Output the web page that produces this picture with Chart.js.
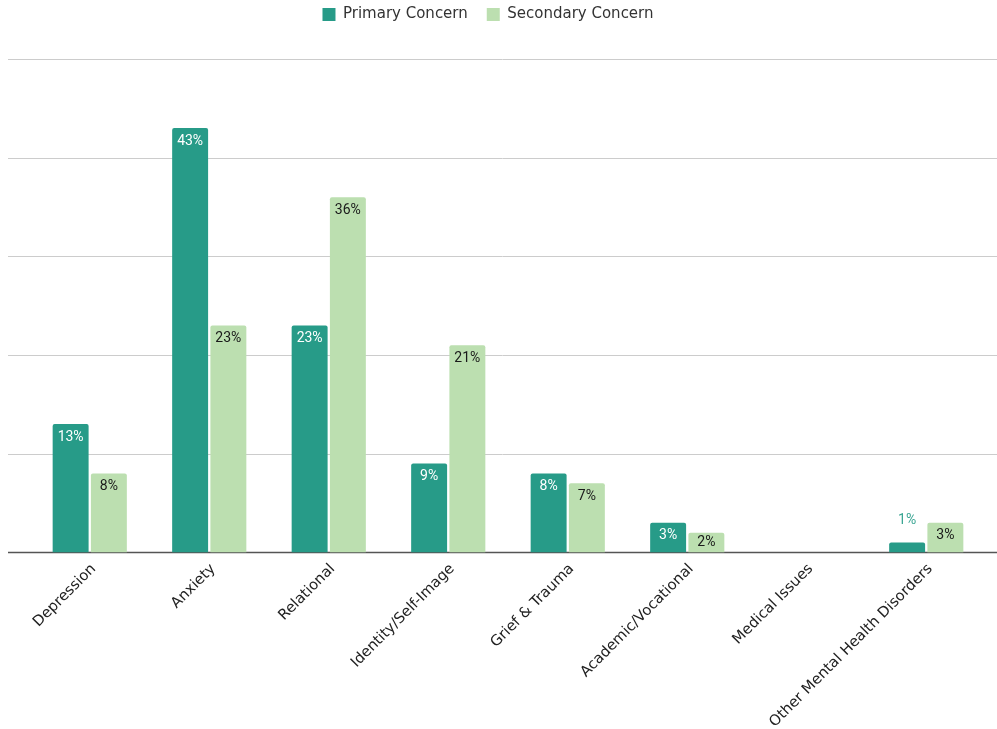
<!DOCTYPE html>
<html>
<head>
<meta charset="utf-8">
<script src="https://cdn.jsdelivr.net/npm/chart.js@4/dist/chart.umd.min.js"></script>
<style>
  html, body { margin: 0; padding: 0; background: #fff; }
  #wrap { width: 997px; height: 729px; }
</style>
</head>
<body>
<div id="wrap"><canvas id="barChart" width="997" height="729"></canvas></div>
<script>
var categories = [
  "Depression",
  "Anxiety",
  "Relational",
  "Identity/Self-Image",
  "Grief & Trauma",
  "Academic/Vocational",
  "Medical Issues",
  "Other Mental Health Disorders",
];
var primaryConcern = [13, 43, 23, 9, 8, 3, 0, 1];
var secondaryConcern = [8, 23, 36, 21, 7, 2, 0, 3];
var gridValues = [0, 10, 20, 30, 40, 50];

var teal = "#279b88";
var lightGreen = "#bcdfb0";

// gridlines across the full width, like the original
var fullGrid = {
  id: "fullGrid",
  beforeDatasetsDraw: function (chart) {
    var c = chart.ctx;
    var y = chart.scales.y;
    c.save();
    gridValues.forEach(function (v) {
      var py = Math.round(y.getPixelForValue(v)) + 0.5;
      c.beginPath();
      c.strokeStyle = v === 0 ? "#555" : "#cccccc";
      c.lineWidth = v === 0 ? 1.5 : 1;
      c.moveTo(8, py);
      c.lineTo(chart.width, py);
      c.stroke();
    });
    c.restore();
  },
};

// percent labels inside the top of each bar
var barLabels = {
  id: "barLabels",
  afterDatasetsDraw: function (chart) {
    var c = chart.ctx;
    c.save();
    c.font = "14px Roboto";
    c.textAlign = "center";
    c.textBaseline = "middle";
    chart.data.datasets.forEach(function (ds, i) {
      chart.getDatasetMeta(i).data.forEach(function (bar, j) {
        var v = ds.data[j];
        if (!v) return;
        var h = bar.base - bar.y;
        if (h >= 15) {
          c.fillStyle = i === 0 ? "#ffffff" : "#1a1a1a";
          c.fillText(v + "%", bar.x, bar.y + Math.min(13, h / 2));
        } else {
          c.fillStyle = i === 0 ? "#3aa593" : "#9ccf8c";
          c.fillText(v + "%", bar.x, bar.y - 22);
        }
      });
    });
    c.restore();
  },
};

// extra room under the legend, and nudge it a bit left
var legendGap = {
  id: "legendGap",
  beforeInit: function (chart) {
    var fit = chart.legend.fit;
    chart.legend.fit = function () {
      fit.bind(chart.legend)();
      this.height += 27;
    };
  },
  afterLayout: function (chart) {
    chart.legend.left -= 20;
    chart.legend.right -= 20;
  },
};

var ctx = document.getElementById("barChart").getContext("2d");
var myChart = new Chart(ctx, {
  type: "bar",
  data: {
    labels: categories,
    datasets: [
      {
        label: "Primary Concern",
        data: primaryConcern,
        backgroundColor: teal,
        borderRadius: { topLeft: 2, topRight: 2 },
        borderSkipped: "start",
        categoryPercentage: 0.64,
        barPercentage: 0.94,
      },
      {
        label: "Secondary Concern",
        data: secondaryConcern,
        backgroundColor: lightGreen,
        borderRadius: { topLeft: 2, topRight: 2 },
        borderSkipped: "start",
        categoryPercentage: 0.64,
        barPercentage: 0.94,
      },
    ],
  },
  options: {
    responsive: false,
    animation: false,
    layout: {
      padding: { left: 30, right: 11, top: -12, bottom: -2 },
    },
    plugins: {
      legend: {
        position: "top",
        labels: {
          boxWidth: 13,
          boxHeight: 13,
          padding: 19,
          color: "#333",
          font: { family: "'DejaVu Sans'", size: 15 },
        },
      },
      tooltip: { enabled: false },
    },
    scales: {
      y: {
        display: false,
        min: 0,
        max: 50,
      },
      x: {
        grid: { display: false },
        border: { display: false },
        ticks: {
          minRotation: 45,
          maxRotation: 45,
          autoSkip: false,
          padding: 0,
          labelOffset: 4,
          color: "#222",
          font: { family: "'DejaVu Sans'", size: 14.7 },
        },
      },
    },
  },
  plugins: [fullGrid, barLabels, legendGap],
});
</script>
</body>
</html>
